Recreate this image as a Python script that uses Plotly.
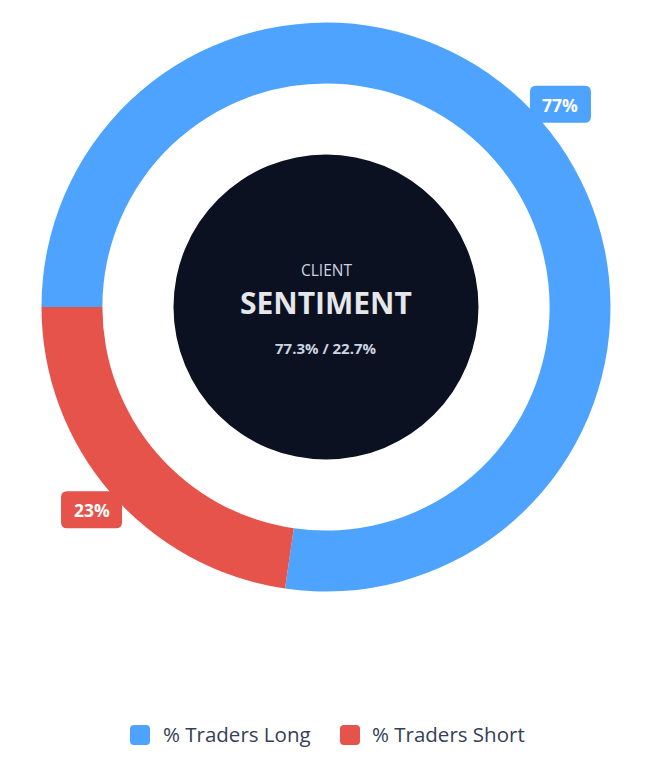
import math
import plotly.graph_objects as go

# ---- data ----
labels = ["% Traders Long", "% Traders Short"]
values = [77.3, 22.7]
colors = ["#4ea3ff", "#e5534b"]
center_title = "SENTIMENT"
center_sub = "CLIENT"

# ---- layout geometry (pixels) ----
W, H = 652, 766
CX, CY = 326, 307       # pie centre (px from top-left)
R = 284.5               # outer radius
HOLE = 0.786
INNER_R = 152.5         # dark centre disc radius
LABEL_R = 310           # radius at which % badges sit
ROTATION = -90          # first slice starts at 9 o'clock
LEGEND_Y = 735
LEGEND_SYM_X = [130, 340]
LEGEND_TXT_X = [161, 370]

def px2x(px):
    return px / W

def px2y(py):
    return 1 - py / H

def rounded_rect(x0, y0, x1, y1, r):
    pts = [
        f"M{px2x(x0 + r)},{px2y(y0)}",
        f"L{px2x(x1 - r)},{px2y(y0)}",
        f"Q{px2x(x1)},{px2y(y0)} {px2x(x1)},{px2y(y0 + r)}",
        f"L{px2x(x1)},{px2y(y1 - r)}",
        f"Q{px2x(x1)},{px2y(y1)} {px2x(x1 - r)},{px2y(y1)}",
        f"L{px2x(x0 + r)},{px2y(y1)}",
        f"Q{px2x(x0)},{px2y(y1)} {px2x(x0)},{px2y(y1 - r)}",
        f"L{px2x(x0)},{px2y(y0 + r)}",
        f"Q{px2x(x0)},{px2y(y0)} {px2x(x0 + r)},{px2y(y0)}",
        "Z",
    ]
    return " ".join(pts)

fig = go.Figure()
fig.add_trace(go.Pie(
    labels=labels,
    values=values,
    marker=dict(colors=colors, line=dict(width=0)),
    hole=HOLE,
    sort=False,
    direction="clockwise",
    rotation=ROTATION,
    textinfo="none",
    hoverinfo="label+percent",
    showlegend=False,
    domain=dict(x=[px2x(CX - R), px2x(CX + R)], y=[px2y(CY + R), px2y(CY - R)]),
))

shapes = []
annotations = []

# dark centre disc
shapes.append(dict(
    type="circle", xref="paper", yref="paper",
    x0=px2x(CX - INNER_R), x1=px2x(CX + INNER_R),
    y0=px2y(CY + INNER_R), y1=px2y(CY - INNER_R),
    fillcolor="#0b1120", line=dict(width=0), layer="above",
))

def ann(x, y, text, size, color, xanchor="center"):
    return dict(x=px2x(x), y=px2y(y), xref="paper", yref="paper", text=text,
                showarrow=False, xanchor=xanchor, yanchor="middle",
                font=dict(family="Open Sans", size=size, color=color))

# centre texts
pct_text = " / ".join(f"{v:.1f}%" for v in values)
annotations += [
    ann(CX, CY - 37, center_sub, 15.5, "#cbd5e1"),
    ann(CX, CY - 4, f"<b>{center_title}</b>", 30, "#e5e7eb"),
    ann(CX, CY + 41, f"<b>{pct_text}</b>", 15, "#cbd5e1"),
]

# percentage badges at slice midpoints
total = sum(values)
start = ROTATION
BW, BH, BR = 61, 37, 6
for v, c in zip(values, colors):
    span = v / total * 360
    mid = math.radians(start + span / 2)
    start += span
    bx = CX + LABEL_R * math.sin(mid)
    by = CY - LABEL_R * math.cos(mid)
    shapes.append(dict(type="path", xref="paper", yref="paper",
                       path=rounded_rect(bx - BW / 2, by - BH / 2, bx + BW / 2, by + BH / 2, BR),
                       fillcolor=c, line=dict(width=0), layer="above"))
    annotations.append(ann(bx, by + 0.5, f"<b>{round(v)}%</b>", 17.5, "#ffffff"))

# legend (rounded swatches + labels)
for lab, c, sx, tx in zip(labels, colors, LEGEND_SYM_X, LEGEND_TXT_X):
    shapes.append(dict(type="path", xref="paper", yref="paper",
                       path=rounded_rect(sx, LEGEND_Y - 10, sx + 20, LEGEND_Y + 10, 4),
                       fillcolor=c, line=dict(width=0), layer="above"))
    annotations.append(ann(tx, LEGEND_Y - 1, lab, 20.5, "#334155", xanchor="left"))

fig.update_layout(
    width=W, height=H,
    margin=dict(l=0, r=0, t=0, b=0),
    paper_bgcolor="#ffffff",
    plot_bgcolor="#ffffff",
    shapes=shapes,
    annotations=annotations,
    showlegend=False,
)

fig.write_html("out.html")
